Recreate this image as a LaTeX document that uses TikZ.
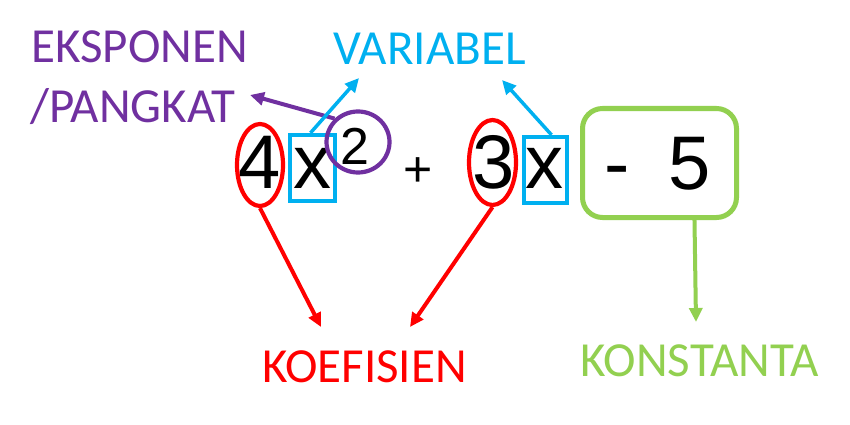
\documentclass[tikz,border=0pt]{standalone}
\usepackage{fontspec}
\newfontfamily\labfont{Carlito}
\newfontfamily\exprfont{Liberation Sans}
\usetikzlibrary{shapes.geometric,arrows.meta,calc}
\definecolor{cpurple}{HTML}{7030A0}
\definecolor{cblue}{HTML}{00B0F0}
\definecolor{cred}{HTML}{FF0000}
\definecolor{cgreen}{HTML}{92D050}
\tikzset{
  lbl/.style={inner sep=0pt, anchor=base, font=\labfont\fontsize{49}{49}\selectfont},
  expr/.style={inner sep=0pt, anchor=base, font=\exprfont\fontsize{76}{76}\selectfont},
  supexpr/.style={inner sep=0pt, anchor=base, font=\exprfont\fontsize{52}{52}\selectfont},
  plusexpr/.style={inner sep=0pt, anchor=base, font=\exprfont\fontsize{50}{50}\selectfont},
  ring/.style={draw, ellipse, line width=4.2pt, inner sep=0pt},
  vbox/.style={draw=cblue, line width=4.2pt, inner sep=0pt},
  arr/.style={line width=4pt, -{Triangle[length=14pt,width=13pt]}}
}
\begin{document}
\begin{tikzpicture}[x=1pt,y=-1pt]
\useasboundingbox (0,0) rectangle (850,425);
\fill[white] (0,0) rectangle (850,425);

% labels
\node[lbl, anchor=base west, text=cpurple] (eks) at (31,63) {EKSPONEN};
\node[lbl, anchor=base west, text=cpurple] (pang) at (30,122) {/PANGKAT};
\node[lbl, text=cblue] (var) at (429.5,65) {VARIABEL};
\node[lbl, text=cred] (koef) at (364.5,382) {KOEFISIEN};
\node[lbl, text=cgreen] (kons) at (699.5,376) {KONSTANTA};

% expression
\node[expr] (four) at (260,188) {4};
\node[expr] (xa) at (312.5,188) {x};
\node[supexpr] (two) at (354.5,164) {2};
\node[plusexpr] (plus) at (418,186) {+};
\node[expr] (three) at (494,188) {3};
\node[expr] (xb) at (544,188) {x};
\node[expr] (minus) at (617,189) {-};
\node[expr] (five) at (690,189) {5};

% marks
\node[ring, draw=cred, minimum width=46pt, minimum height=82pt] (ea) at (260,165) {};
\node[ring, draw=cred, minimum width=47pt, minimum height=85pt] (eb) at (492.5,162.5) {};
\node[vbox, minimum width=45pt, minimum height=66pt] (ba) at (312.5,168) {};
\node[vbox, minimum width=43pt, minimum height=66pt] (bb) at (545.5,170) {};
\node[ring, draw=cpurple, minimum width=63pt, minimum height=61pt] (circ) at (358,142) {};
\node[draw=cgreen, line width=5pt, rounded corners=20pt, inner sep=0pt,
      minimum width=154pt, minimum height=109pt] (gbox) at (659.5,163) {};

% arrow tips
\coordinate (tpang) at (250,95);
\coordinate (tvara) at (359,78);
\coordinate (tvarb) at (502,80);
\coordinate (tkoa) at (321,327);
\coordinate (tkob) at (410,327);
\coordinate (gstart) at ($(gbox.south west)!0.72!(gbox.south east)$);
\coordinate (tkons) at (696,322);

% connectors
\draw[arr, cpurple] (circ.135) -- (tpang);
\draw[arr, cblue, line width=3.5pt] ($(ba.north)+(-2,0)$) -- (tvara);
\draw[arr, cblue, line width=3.5pt] ($(bb.north)+(6,0)$) -- (tvarb);
\draw[arr, cred] (ea.south) -- (tkoa);
\draw[arr, cred] (eb.south) -- (tkob);
\draw[arr, cgreen] (gstart) -- (tkons);
\end{tikzpicture}
\end{document}
